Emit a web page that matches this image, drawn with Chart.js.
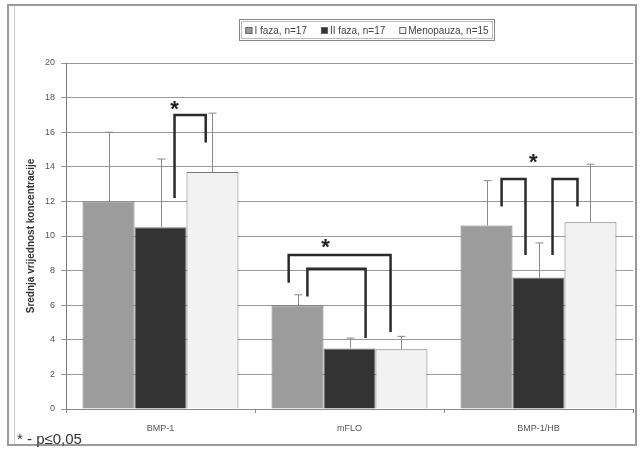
<!DOCTYPE html>
<html>
<head>
<meta charset="utf-8">
<script src="https://cdn.jsdelivr.net/npm/chart.js@4"></script>
<style>
    html, body { margin: 0; padding: 0; background: #fff; }
    #wrap { position: relative; width: 642px; height: 452px; }
</style>
</head>
<body>
<div id="wrap"><canvas id="chart" width="642" height="452"></canvas></div>
<script>
// chart values
const categories = ['BMP-1', 'mFLO', 'BMP-1/HB']
const seriesLabels = ['I faza, n=17', 'II faza, n=17', 'Menopauza, n=15']
const phaseOne = [12.0, 6.0, 10.6]
const phaseOneErr = [4.0, 0.6, 2.6]
const phaseTwo = [10.5, 3.5, 7.6]
const phaseTwoErr = [3.95, 0.6, 2.0]
const menopause = [13.7, 3.45, 10.8]
const menopauseErr = [3.4, 0.75, 3.35]
const yTicks = [0, 2, 4, 6, 8, 10, 12, 14, 16, 18, 20]
const yTitle = 'Srednja vrijednost koncentracije'
const footnote = '* - p\u22640,05'

// significance brackets: category, x offsets in bar widths from category centre, y values
const brackets = [
    { cat: 0, x1: 0.27, x2: 0.87, y1: 12.2, top: 17.0, y2: 15.4 },
    { cat: 1, x1: -1.17, x2: 0.79, y1: 7.3, top: 8.9, y2: 4.45 },
    { cat: 1, x1: -0.81, x2: 0.31, y1: 6.5, top: 8.1, y2: 4.1 },
    { cat: 2, x1: -0.71, x2: -0.25, y1: 11.7, top: 13.3, y2: 8.9 },
    { cat: 2, x1: 0.27, x2: 0.75, y1: 8.9, top: 13.3, y2: 11.7 },
]
const stars = [
    { cat: 0, x: 0.27, y: 17.6 },
    { cat: 1, x: -0.46, y: 9.6 },
    { cat: 2, x: -0.1, y: 14.5 },
]

const colors = ['#9c9c9c', '#333333', '#f2f2f2']
const errors = [phaseOneErr, phaseTwoErr, menopauseErr]

const errorBars = {
    id: 'errorBars',
    afterDatasetsDraw(chart) {
        const { ctx } = chart
        const y = chart.scales.y
        ctx.save()
        ctx.strokeStyle = '#8a8a8a'
        ctx.lineWidth = 1
        chart.data.datasets.forEach((ds, d) => {
            const meta = chart.getDatasetMeta(d)
            meta.data.forEach((bar, i) => {
                const x = Math.round(bar.x) + 0.5
                const yTop = y.getPixelForValue(ds.data[i] + errors[d][i])
                ctx.beginPath()
                ctx.moveTo(x, bar.y)
                ctx.lineTo(x, yTop)
                ctx.moveTo(x - 4, yTop)
                ctx.lineTo(x + 4, yTop)
                ctx.stroke()
            })
        })
        ctx.restore()
    },
}

const significance = {
    id: 'significance',
    afterDraw(chart) {
        const { ctx } = chart
        const xs = chart.scales.x
        const ys = chart.scales.y
        const bw = chart.getDatasetMeta(0).data[0].width
        const px = (cat, off) => xs.getPixelForValue(cat) + off * bw
        ctx.save()
        ctx.strokeStyle = '#2b2b2b'
        ctx.lineWidth = 2.5
        brackets.forEach(b => {
            ctx.beginPath()
            ctx.moveTo(px(b.cat, b.x1), ys.getPixelForValue(b.y1))
            ctx.lineTo(px(b.cat, b.x1), ys.getPixelForValue(b.top))
            ctx.lineTo(px(b.cat, b.x2), ys.getPixelForValue(b.top))
            ctx.lineTo(px(b.cat, b.x2), ys.getPixelForValue(b.y2))
            ctx.stroke()
        })
        ctx.fillStyle = '#222'
        ctx.font = 'bold 22px "Liberation Sans", Arial, sans-serif'
        ctx.textAlign = 'center'
        ctx.textBaseline = 'middle'
        stars.forEach(s => {
            ctx.fillText('*', px(s.cat, s.x), ys.getPixelForValue(s.y) + 5)
        })

        // legend, boxed, centred over the plot
        ctx.font = '10px "Liberation Sans", Arial, sans-serif'
        ctx.textAlign = 'left'
        ctx.textBaseline = 'middle'
        const ly = 30
        const widths = seriesLabels.map(t => ctx.measureText(t).width)
        const gap = 14
        const total = widths.reduce((a, w) => a + w + 9, 0) + gap * (seriesLabels.length - 1)
        let lx = 367 - total / 2
        ctx.strokeStyle = '#888'
        ctx.lineWidth = 1
        ctx.strokeRect(Math.round(lx - 6) + 0.5, 19.5, Math.round(total + 12), 21)
        ctx.strokeStyle = '#bbb'
        ctx.strokeRect(Math.round(lx - 4) + 0.5, 21.5, Math.round(total + 8), 17)
        seriesLabels.forEach((t, i) => {
            ctx.fillStyle = colors[i]
            ctx.fillRect(lx, ly - 3, 7, 7)
            ctx.strokeStyle = '#666'
            ctx.strokeRect(lx + 0.5, ly - 2.5, 6, 6)
            ctx.fillStyle = '#444'
            ctx.fillText(t, lx + 9, ly + 1)
            lx += widths[i] + 9 + gap
        })

        // footnote
        ctx.fillStyle = '#333'
        ctx.font = '15px "Liberation Sans", Arial, sans-serif'
        ctx.textBaseline = 'alphabetic'
        ctx.fillText(footnote, 17, 444)
        ctx.restore()
    },
}

const frame = {
    id: 'frame',
    beforeDraw(chart) {
        const { ctx } = chart
        ctx.save()
        ctx.fillStyle = '#fff'
        ctx.fillRect(0, 0, chart.width, chart.height)
        ctx.strokeStyle = '#9a9a9a'
        ctx.lineWidth = 2
        ctx.strokeRect(8, 5, 628, 440)
        ctx.strokeStyle = '#c8c8c8'
        ctx.lineWidth = 1
        ctx.beginPath()
        ctx.moveTo(14.5, 6)
        ctx.lineTo(14.5, 444)
        ctx.stroke()
        ctx.restore()
    },
}

new Chart(document.getElementById('chart'), {
    type: 'bar',
    data: {
        labels: categories,
        datasets: [phaseOne, phaseTwo, menopause].map((data, i) => ({
            label: seriesLabels[i],
            data,
            backgroundColor: colors[i],
            borderColor: '#777',
            borderWidth: 1,
            barPercentage: 1,
            categoryPercentage: 0.825,
        })),
    },
    options: {
        responsive: false,
        animation: false,
        layout: { padding: { left: 0, right: 9, top: 63, bottom: 0 } },
        plugins: {
            legend: { display: false },
            tooltip: { enabled: false },
        },
        scales: {
            x: {
                grid: { display: true, drawOnChartArea: false, color: '#888', tickLength: 4, offset: true },
                border: { color: '#888' },
                ticks: { color: '#555', font: { size: 9, family: 'Liberation Sans' }, padding: 10 },
                afterFit: s => { s.height = 43 },
            },
            y: {
                min: 0,
                max: 20,
                afterBuildTicks: s => { s.ticks = yTicks.map(v => ({ value: v })) },
                grid: { color: '#999', tickLength: 5 },
                border: { color: '#777' },
                ticks: { color: '#555', font: { size: 9, family: 'Liberation Sans' }, padding: 6 },
                title: {
                    display: true,
                    text: yTitle,
                    color: '#333',
                    font: { size: 10, weight: 'bold', family: 'Liberation Sans' },
                    padding: { top: 25, bottom: 0 },
                },
                afterFit: s => { s.width = 66 },
            },
        },
    },
    plugins: [frame, errorBars, significance],
})
</script>
</body>
</html>
